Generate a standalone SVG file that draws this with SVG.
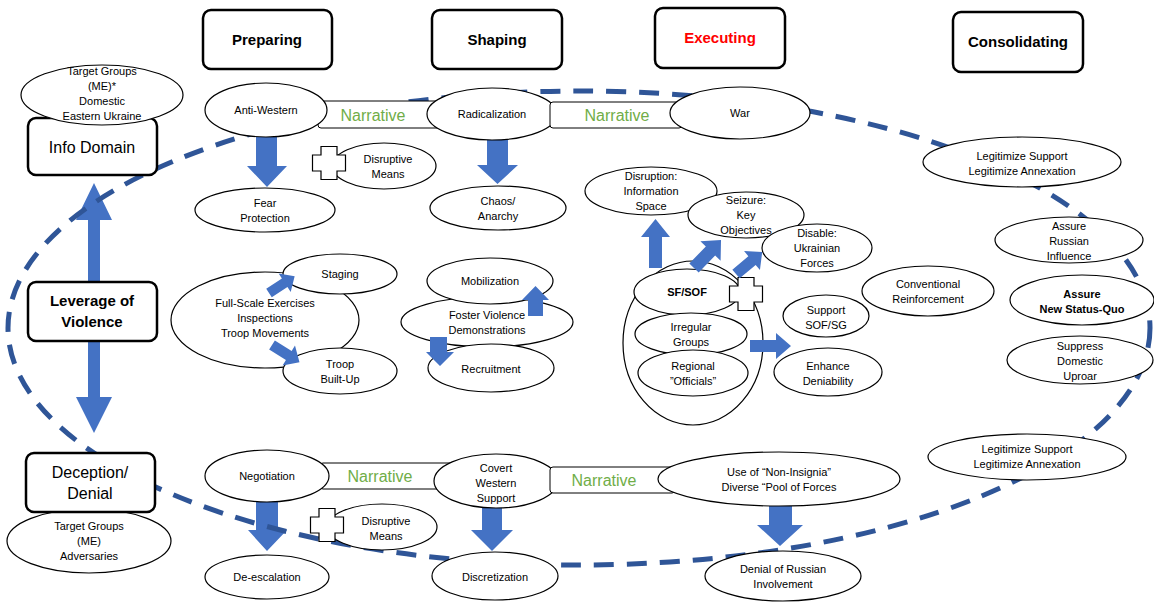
<svg xmlns="http://www.w3.org/2000/svg" xmlns:xlink="http://www.w3.org/1999/xlink" width="1154" height="603" viewBox="0 0 1154 603">
<style>
.n{fill:#fff;stroke:#000;stroke-width:1.2}
.t{font-family:"Liberation Sans",Arial,sans-serif;font-size:11px;fill:#000;text-anchor:middle}
.b{font-weight:bold}
.ph{fill:#fff;stroke:#000;stroke-width:2.5}
.pt{font-size:15px;font-weight:bold}
.lt{font-size:16px}
.nar{fill:#fff;stroke:#000;stroke-width:1}
.nt{font-size:16px;fill:#70AD47}
.ar{fill:#4472C4}
.cross{fill:#fff;stroke:#000;stroke-width:1.2}
.dash{fill:none;stroke:#2F5597;stroke-width:5;stroke-dasharray:20 13}
</style>
<defs>
<path id="plus" d="M-8,-16.5 H8 V-8 H16.5 V8 H8 V16.5 H-8 V8 H-16.5 V-8 H-8 Z"/>
<path id="darr" d="M0,-6 H22 V-13 L36,0 L22,13 V6 H0 Z"/>
</defs>
<rect width="1154" height="603" fill="#fff"/>

<!-- phase headers -->
<g id="preparing"><rect class="ph" x="203" y="10" width="129" height="59" rx="8"/><text class="t pt" x="267" y="45">Preparing</text></g>
<g id="shaping"><rect class="ph" x="432" y="10" width="130" height="59" rx="8"/><text class="t pt" x="497" y="45">Shaping</text></g>
<g id="executing"><rect class="ph" x="655" y="8" width="130" height="60" rx="8"/><text class="t pt" x="720" y="43" style="fill:#FF0000">Executing</text></g>
<g id="consolidating"><rect class="ph" x="953" y="12" width="130" height="60" rx="8"/><text class="t pt" x="1018" y="47">Consolidating</text></g>

<!-- connectors behind the nodes -->
<g id="connectors">
<polygon class="ar" points="88,220 76,220 94,183 112,220 100,220 100,397 112,397 94,433 76,397 88,397"/>
<polygon class="ar" points="256,137 277,137 277,166 287,166 267,187 247,166 256,166"/>
<polygon class="ar" points="487,139 508,139 508,165 518,165 497.5,184 477,165 487,165"/>
<polygon class="ar" points="256,501 278,501 278,530 287,530 267,551 248,530 256,530"/>
<polygon class="ar" points="482,507 502,507 502,530 513,530 492,551 471,530 482,530"/>
<polygon class="ar" points="769,505 792,505 792,525 803,525 780,546 757,525 769,525"/>
</g>

<g id="cycle"><ellipse class="dash" cx="579" cy="328" rx="571" ry="237"/></g>

<!-- left column -->
<g id="info-domain"><rect class="ph" x="28" y="118" width="129" height="57" rx="8"/><text class="t lt" x="92" y="153">Info Domain</text></g>
<g id="target-domestic"><ellipse class="n" cx="102" cy="95" rx="81" ry="30"/>
<text class="t" x="102" y="75">Target Groups</text><text class="t" x="102" y="90">(ME)*</text><text class="t" x="102" y="105">Domestic</text><text class="t" x="102" y="120">Eastern Ukraine</text></g>
<g id="leverage"><rect class="ph" x="28" y="282" width="129" height="59" rx="8"/><text class="t pt" x="92" y="306">Leverage of</text><text class="t pt" x="92" y="327">Violence</text></g>
<g id="target-adversaries"><ellipse class="n" cx="89" cy="541" rx="82" ry="32"/>
<text class="t" x="89" y="530">Target Groups</text><text class="t" x="89" y="545">(ME)</text><text class="t" x="89" y="560">Adversaries</text></g>
<g id="deception"><rect class="ph" x="26" y="453" width="129" height="59" rx="8"/><text class="t lt" x="90" y="478">Deception/</text><text class="t lt" x="90" y="499">Denial</text></g>

<!-- top narrative row -->
<g id="narrative-1"><rect class="nar" x="318" y="101" width="125" height="27" rx="3"/><text class="t nt" x="373" y="121">Narrative</text></g>
<g id="anti-western"><ellipse class="n" cx="266" cy="110" rx="61" ry="27"/><text class="t" x="266" y="114">Anti-Western</text></g>
<g id="radicalization"><ellipse class="n" cx="492" cy="114" rx="65" ry="26"/><text class="t" x="492" y="118">Radicalization</text></g>
<g id="narrative-2"><rect class="nar" x="550" y="102" width="132" height="26" rx="3"/><text class="t nt" x="617" y="121">Narrative</text></g>
<g id="war"><ellipse class="n" cx="740" cy="113" rx="70" ry="26"/><text class="t" x="740" y="117">War</text></g>

<g id="fear"><ellipse class="n" cx="265" cy="210" rx="70" ry="22"/><text class="t" x="265" y="207">Fear</text><text class="t" x="265" y="222">Protection</text></g>
<g id="disruptive-1"><ellipse class="n" cx="384" cy="166" rx="52" ry="23"/><text class="t" x="388" y="163">Disruptive</text><text class="t" x="388" y="178">Means</text>
<use xlink:href="#plus" class="cross" x="329" y="163"/></g>
<g id="chaos"><ellipse class="n" cx="498" cy="208" rx="68" ry="22"/><text class="t" x="498" y="205">Chaos/</text><text class="t" x="498" y="220">Anarchy</text></g>

<!-- preparing middle -->
<g id="exercises"><ellipse class="n" cx="265" cy="320" rx="94" ry="48"/>
<text class="t" x="265" y="307">Full-Scale Exercises</text><text class="t" x="265" y="322">Inspections</text><text class="t" x="265" y="337">Troop Movements</text></g>
<g id="staging"><ellipse class="n" cx="340" cy="274" rx="57" ry="20"/><text class="t" x="340" y="278">Staging</text></g>
<g id="troop"><ellipse class="n" cx="340" cy="371" rx="57" ry="23"/><text class="t" x="340" y="368">Troop</text><text class="t" x="340" y="383">Built-Up</text></g>

<!-- shaping middle -->
<g id="foster"><ellipse class="n" cx="487" cy="322" rx="86" ry="25"/><text class="t" x="487" y="319">Foster Violence</text><text class="t" x="487" y="334">Demonstrations</text></g>
<g id="mobilization"><ellipse class="n" cx="490" cy="281" rx="63" ry="23"/><text class="t" x="490" y="285">Mobilization</text></g>
<g id="recruitment"><ellipse class="n" cx="491" cy="368" rx="63" ry="24"/><text class="t" x="491" y="373">Recruitment</text></g>

<!-- executing -->
<g id="disruption"><ellipse class="n" cx="651" cy="191" rx="66" ry="24"/><text class="t" x="651" y="180">Disruption:</text><text class="t" x="651" y="195">Information</text><text class="t" x="651" y="210">Space</text></g>
<g id="seizure"><ellipse class="n" cx="746" cy="215" rx="58" ry="23"/><text class="t" x="746" y="204">Seizure:</text><text class="t" x="746" y="219">Key</text><text class="t" x="746" y="234">Objectives</text></g>
<g id="disable"><ellipse class="n" cx="817" cy="248" rx="55" ry="24"/><text class="t" x="817" y="237">Disable:</text><text class="t" x="817" y="252">Ukrainian</text><text class="t" x="817" y="267">Forces</text></g>
<g id="forces-group"><ellipse class="n" cx="693" cy="343" rx="70" ry="82"/></g>
<g id="sf-sof"><ellipse class="n" cx="687" cy="292" rx="53" ry="23"/><text class="t b" x="687" y="296">SF/SOF</text>
<use xlink:href="#plus" class="cross" x="746" y="294"/></g>
<g id="irregular"><ellipse class="n" cx="691" cy="334" rx="56" ry="21"/><text class="t" x="691" y="331">Irregular</text><text class="t" x="691" y="346">Groups</text></g>
<g id="regional"><ellipse class="n" cx="693" cy="373" rx="55" ry="23"/><text class="t" x="693" y="370">Regional</text><text class="t" x="693" y="385">”Officials”</text></g>
<g id="support-sof"><ellipse class="n" cx="826" cy="316" rx="43" ry="21"/><text class="t" x="826" y="314">Support</text><text class="t" x="826" y="329">SOF/SG</text></g>
<g id="deniability"><ellipse class="n" cx="828" cy="372" rx="54" ry="24"/><text class="t" x="828" y="370">Enhance</text><text class="t" x="828" y="385">Deniability</text></g>
<g id="conventional"><ellipse class="n" cx="928" cy="291" rx="66" ry="25"/><text class="t" x="928" y="288">Conventional</text><text class="t" x="928" y="303">Reinforcement</text></g>

<!-- consolidating -->
<g id="legitimize-1"><ellipse class="n" cx="1022" cy="162" rx="99" ry="25"/><text class="t" x="1022" y="160">Legitimize Support</text><text class="t" x="1022" y="175">Legitimize Annexation</text></g>
<g id="assure-influence"><ellipse class="n" cx="1069" cy="240" rx="74" ry="23"/><text class="t" x="1069" y="230">Assure</text><text class="t" x="1069" y="245">Russian</text><text class="t" x="1069" y="260">Influence</text></g>
<g id="assure-status"><ellipse class="n" cx="1082" cy="300" rx="72" ry="25"/><text class="t b" x="1082" y="298">Assure</text><text class="t b" x="1082" y="313">New Status-Quo</text></g>
<g id="suppress"><ellipse class="n" cx="1080" cy="360" rx="73" ry="24"/><text class="t" x="1080" y="350">Suppress</text><text class="t" x="1080" y="365">Domestic</text><text class="t" x="1080" y="380">Uproar</text></g>
<g id="legitimize-2"><ellipse class="n" cx="1027" cy="457" rx="99" ry="23"/><text class="t" x="1027" y="453">Legitimize Support</text><text class="t" x="1027" y="468">Legitimize Annexation</text></g>

<!-- bottom row -->
<g id="narrative-3"><rect class="nar" x="320" y="463" width="135" height="26" rx="3"/><text class="t nt" x="380" y="482">Narrative</text></g>
<g id="negotiation"><ellipse class="n" cx="267" cy="476" rx="62" ry="26"/><text class="t" x="267" y="480">Negotiation</text></g>
<g id="covert"><ellipse class="n" cx="496" cy="481" rx="62" ry="27"/><text class="t" x="496" y="472">Covert</text><text class="t" x="496" y="487">Western</text><text class="t" x="496" y="502">Support</text></g>
<g id="narrative-4"><rect class="nar" x="550" y="467" width="125" height="26" rx="3"/><text class="t nt" x="604" y="486">Narrative</text></g>
<g id="non-insignia"><ellipse class="n" cx="779" cy="479" rx="121" ry="27"/><text class="t" x="779" y="476">Use of “Non-Insignia”</text><text class="t" x="779" y="491">Diverse “Pool of Forces</text></g>
<g id="deescalation"><ellipse class="n" cx="267" cy="577" rx="62" ry="22"/><text class="t" x="267" y="581">De-escalation</text></g>
<g id="disruptive-2"><ellipse class="n" cx="382" cy="527" rx="55" ry="23"/><text class="t" x="386" y="525">Disruptive</text><text class="t" x="386" y="540">Means</text>
<use xlink:href="#plus" class="cross" x="327" y="525"/></g>
<g id="discretization"><ellipse class="n" cx="495" cy="576" rx="63" ry="24"/><text class="t" x="495" y="581">Discretization</text></g>
<g id="denial"><ellipse class="n" cx="783" cy="576" rx="78" ry="25"/><text class="t" x="783" y="573">Denial of Russian</text><text class="t" x="783" y="588">Involvement</text></g>

<!-- connectors drawn over the nodes -->
<g id="connectors-front">
<polygon class="ar" points="430,337 447,337 447,352 454,352 440,366 426,352 430,352"/>
<polygon class="ar" points="528,316 543,316 543,300 549,300 535.5,286 522,300 528,300"/>
<polygon class="ar" points="649,268 662,268 662,237 670,237 655.5,219 641,237 649,237"/>
<polygon class="ar" points="750,340 776,340 776,333 791,346 776,359 776,352 750,352"/>
<use xlink:href="#darr" class="ar" transform="translate(694,268) rotate(-46) scale(1.08)"/>
<use xlink:href="#darr" class="ar" transform="translate(736,274) rotate(-40) scale(0.95)"/>
<use xlink:href="#darr" class="ar" transform="translate(269,293) rotate(-33) scale(0.85)"/>
<use xlink:href="#darr" class="ar" transform="translate(272,345) rotate(32) scale(0.9)"/>
</g>
</svg>
